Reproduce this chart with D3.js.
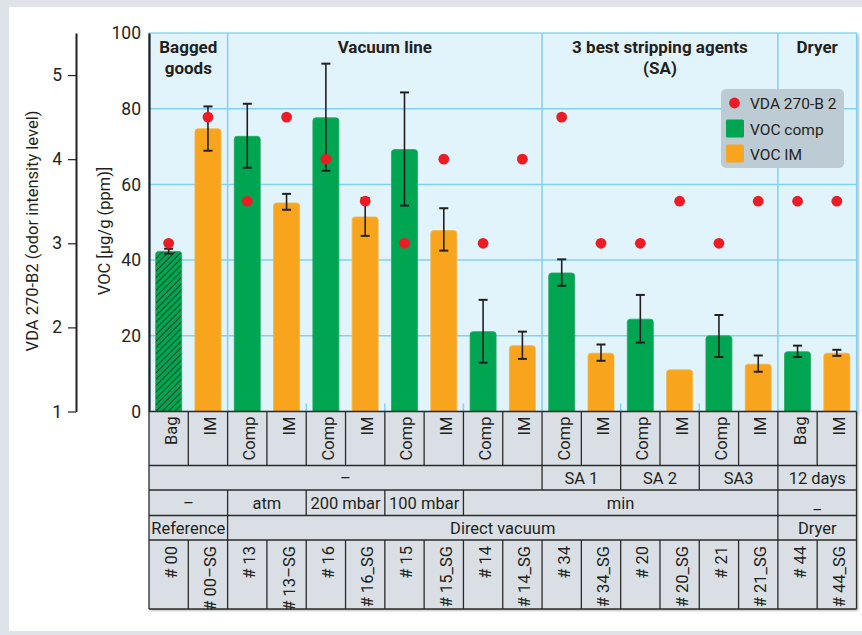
<!DOCTYPE html>
<html>
<head>
<meta charset="utf-8">
<script src="https://cdn.jsdelivr.net/npm/d3@7"></script>
<style>
  body { margin: 0; background: #fff; }
  svg text { font-family: "Roboto", "Liberation Sans", sans-serif; fill: #231f20; }
</style>
</head>
<body>
<svg id="canvas"></svg>
<script>
// ---- data ----
let vocLabels = ['Bag','IM','Comp','IM','Comp','IM','Comp','IM','Comp','IM','Comp','IM','Comp','IM','Comp','IM','Bag','IM']
let sampleIds = ['# 00','# 00–SG','# 13','# 13–SG','# 16','# 16_SG','# 15','# 15_SG','# 14','# 14_SG','# 34','# 34_SG','# 20','# 20_SG','# 21','# 21_SG','# 44','# 44_SG']
let vocSeries = ['bag','im','comp','im','comp','im','comp','im','comp','im','comp','im','comp','im','comp','im','comp','im']
let vocValue  = [42.3, 74.7, 72.7, 55.1, 77.6, 51.4, 69.2, 47.8, 21.1, 17.4, 36.6, 15.4, 24.4, 11.0, 20.0, 12.5, 15.8, 15.4]
let errLow    = [41.7, 68.9, 64.4, 53.3, 63.6, 46.4, 54.4, 42.5, 12.9, 13.9, 33.2, 13.4, 18.2, null, 14.4, 10.5, 14.4, 14.7]
let errHigh   = [43.0, 80.6, 81.3, 57.5, 91.9, 56.4, 84.3, 53.7, 29.5, 21.1, 40.2, 17.7, 30.8, null, 25.5, 14.8, 17.4, 16.3]
let vdaScore  = [3.0, 4.5, 3.5, 4.5, 4.0, 3.5, 3.0, 4.0, 3.0, 4.0, 4.5, 3.0, 3.0, 3.5, 3.0, 3.5, 3.5, 3.5]

let headerText  = [['Bagged','goods'], ['Vacuum line'], ['3 best stripping agents','(SA)'], ['Dryer']]
let headerSpans = [2, 8, 6, 2]
let row2Text  = ['–','SA 1','SA 2','SA3','12 days']
let row2Spans = [10, 2, 2, 2, 2]
let row3Text  = ['–','atm','200 mbar','100 mbar','min','_']
let row3Spans = [2, 2, 2, 2, 8, 2]
let row4Text  = ['Reference','Direct vacuum','Dryer']
let row4Spans = [2, 14, 2]
let minorTicks = [4, 6, 8, 12, 14]

let vocTicks = [0, 20, 40, 60, 80, 100]
let vdaTicks = [1, 2, 3, 4, 5]
let legendItems = ['VDA 270-B 2', 'VOC comp', 'VOC IM']

// ---- layout ----
let width = 862
let height = 635
let plotLeft = 149, plotRight = 856.5, plotTop = 33, plotBottom = 411.5
let rowY = [411.5, 465.5, 490, 515.5, 540, 609]

let colors = { comp: '#00a551', im: '#f8a51d', bag: '#00a551', dot: '#ed1c24' }

let canvas = d3.select('#canvas').attr('width', width).attr('height', height)
let defs = canvas.append('defs')

let shadow = defs.append('filter').attr('id', 'shadow').attr('x', '-5%').attr('y', '-5%').attr('width', '110%').attr('height', '110%')
shadow.append('feDropShadow').attr('dx', 1.5).attr('dy', 1.5).attr('stdDeviation', 1.2).attr('flood-color', '#000').attr('flood-opacity', 0.35)

let hatch = defs.append('pattern').attr('id', 'hatch').attr('patternUnits', 'userSpaceOnUse')
    .attr('width', 4.5).attr('height', 4.5).attr('patternTransform', 'rotate(45)')
hatch.append('rect').attr('width', 4.5).attr('height', 4.5).attr('fill', colors.bag)
hatch.append('line').attr('x1', 0).attr('y1', 0).attr('x2', 0).attr('y2', 4.5)
    .attr('stroke', '#163d22').attr('stroke-width', 1.8)

// outer frame
canvas.append('rect').attr('width', width).attr('height', height).attr('fill', '#dde3e8')
canvas.append('rect').attr('x', 9).attr('y', 7).attr('width', width - 9).attr('height', 624).attr('fill', '#fff')

let xScale = d3.scaleBand().domain(d3.range(vocValue.length)).range([plotLeft, plotRight])
let yScale = d3.scaleLinear().domain([0, 100]).range([plotBottom, plotTop])
let yVda = d3.scaleLinear().domain([1, 5.5]).range([plotBottom, plotTop])
let bw = xScale.bandwidth()
let barW = 26

let spanX = (start, n) => [xScale(start), xScale(start + n - 1) + bw]
let spanList = (spans) => {
    let out = [], s = 0
    spans.forEach(n => { out.push(spanX(s, n)); s += n })
    return out
}

// plot background
canvas.append('rect').attr('x', plotLeft).attr('y', plotTop).attr('width', plotRight - plotLeft).attr('height', plotBottom - plotTop)
    .attr('fill', '#e1f3fb').attr('stroke', '#7fcfef').attr('stroke-width', 1.2).attr('filter', 'url(#shadow)')

// horizontal grid
canvas.append('g').selectAll('line').data(vocTicks.slice(1, 5)).enter().append('line')
    .attr('x1', plotLeft).attr('x2', plotRight)
    .attr('y1', d => yScale(d)).attr('y2', d => yScale(d))
    .attr('stroke', '#82d1f0').attr('stroke-width', 1.5)

// vertical group lines
let groupEdges = spanList(headerSpans).slice(1).map(d => d[0])
canvas.append('g').selectAll('line').data(groupEdges).enter().append('line')
    .attr('x1', d => d).attr('x2', d => d).attr('y1', plotTop).attr('y2', plotBottom)
    .attr('stroke', '#82d1f0').attr('stroke-width', 1.5)
canvas.append('g').selectAll('line').data(minorTicks).enter().append('line')
    .attr('x1', d => xScale(d)).attr('x2', d => xScale(d)).attr('y1', plotBottom - 8).attr('y2', plotBottom)
    .attr('stroke', '#82d1f0').attr('stroke-width', 1.5)

// header texts
let hdr = spanList(headerSpans)
headerText.forEach((lines, i) => {
    let cx = (hdr[i][0] + hdr[i][1]) / 2
    let t = canvas.append('text').attr('x', cx).attr('y', 53)
        .attr('text-anchor', 'middle').attr('font-size', 17).attr('font-weight', 'bold')
    lines.forEach((l, j) => t.append('tspan').attr('x', cx).attr('dy', j ? 21 : 0).text(l))
})

// bars
canvas.append('g').selectAll('path').data(vocValue).enter().append('path')
    .attr('d', (d, i) => {
        let x0 = xScale(i) + (bw - barW) / 2, y0 = yScale(d), r = 3
        return `M${x0},${plotBottom}V${y0 + r}Q${x0},${y0} ${x0 + r},${y0}H${x0 + barW - r}Q${x0 + barW},${y0} ${x0 + barW},${y0 + r}V${plotBottom}Z`
    })
    .attr('fill', (d, i) => vocSeries[i] == 'bag' ? 'url(#hatch)' : colors[vocSeries[i]])
    .attr('stroke', (d, i) => vocSeries[i] == 'im' ? '#f3b54a' : '#26a862').attr('stroke-width', 0.8)

// error bars
let errIdx = d3.range(vocValue.length).filter(i => errLow[i] != null)
let eg = canvas.append('g').attr('stroke', '#231f20').attr('stroke-width', 1.6)
errIdx.forEach(i => {
    let cx = xScale(i) + bw / 2
    eg.append('line').attr('x1', cx).attr('x2', cx).attr('y1', yScale(errLow[i])).attr('y2', yScale(errHigh[i]))
    eg.append('line').attr('x1', cx - 4.5).attr('x2', cx + 4.5).attr('y1', yScale(errLow[i])).attr('y2', yScale(errLow[i])).attr('stroke-width', 2)
    eg.append('line').attr('x1', cx - 4.5).attr('x2', cx + 4.5).attr('y1', yScale(errHigh[i])).attr('y2', yScale(errHigh[i])).attr('stroke-width', 2)
})

// VDA dots
canvas.append('g').selectAll('circle').data(vdaScore).enter().append('circle')
    .attr('cx', (d, i) => xScale(i) + bw / 2).attr('cy', d => yVda(d)).attr('r', 5.4)
    .attr('fill', colors.dot)

// VOC axis
let vocAxis = d3.axisLeft(yScale).tickValues(vocTicks).tickSize(0).tickPadding(8)
let ga = canvas.append('g').attr('transform', `translate(${plotLeft},0)`).call(vocAxis)
ga.select('.domain').attr('stroke', '#231f20').attr('stroke-width', 2.2)
ga.selectAll('text').attr('font-size', 17.5).attr('font-family', 'Roboto, sans-serif').attr('fill', '#231f20')
canvas.append('text').attr('transform', 'translate(110,231) rotate(-90)').attr('text-anchor', 'middle')
    .attr('font-size', 16.5).text('VOC [µg/g (ppm)]')

// VDA axis
let vdaAxis = d3.axisLeft(yVda).tickValues(vdaTicks).tickFormat(d3.format('d'))
    .tickSize(8).tickSizeOuter(0).tickPadding(6)
let gv = canvas.append('g').attr('transform', 'translate(76,0)').call(vdaAxis)
gv.select('.domain').attr('stroke', '#231f20').attr('stroke-width', 2)
gv.selectAll('.tick line').attr('stroke', '#231f20').attr('stroke-width', 1.2)
gv.selectAll('text').attr('font-size', 17.5).attr('font-family', 'Roboto, sans-serif').attr('fill', '#231f20')
canvas.append('text').attr('transform', 'translate(38,231) rotate(-90)').attr('text-anchor', 'middle')
    .attr('font-size', 16.5).text('VDA 270-B2 (odor intensity level)')

// legend
let lg = canvas.append('g')
lg.append('rect').attr('x', 721).attr('y', 89).attr('width', 123).attr('height', 79).attr('rx', 5).attr('fill', '#bdccd4')
lg.append('circle').attr('cx', 734.5).attr('cy', 103).attr('r', 5.4).attr('fill', colors.dot)
lg.append('rect').attr('x', 726).attr('y', 119.5).attr('width', 18).attr('height', 18).attr('rx', 1.5).attr('fill', colors.comp)
lg.append('rect').attr('x', 726).attr('y', 144.5).attr('width', 18).attr('height', 18).attr('rx', 1.5).attr('fill', colors.im)
legendItems.forEach((t, i) => {
    lg.append('text').attr('x', 750).attr('y', 109 + i * 25.5).attr('font-size', 15.5).text(t)
})

// table below
let tbl = canvas.append('g')
tbl.append('rect').attr('x', plotLeft).attr('y', rowY[0]).attr('width', plotRight - plotLeft).attr('height', rowY[5] - rowY[0])
    .attr('fill', '#d9dfe4').attr('filter', 'url(#shadow)')
let tline = (x1, y1, x2, y2) => tbl.append('line').attr('x1', x1).attr('y1', y1).attr('x2', x2).attr('y2', y2)
    .attr('stroke', '#2b2b2b').attr('stroke-width', 1.3)

// row lines
rowY.forEach(y => tline(plotLeft, y, plotRight, y))
tline(plotLeft, rowY[0], plotLeft, rowY[5])
tline(plotRight, rowY[0], plotRight, rowY[5])

// per-column rows
d3.range(vocValue.length).forEach(i => {
    if (i > 0) {
        tline(xScale(i), rowY[0], xScale(i), rowY[1])
        tline(xScale(i), rowY[4], xScale(i), rowY[5])
    }
    let cx = xScale(i) + bw / 2
    tbl.append('text').attr('transform', `translate(${cx + 8},${rowY[0] + 5}) rotate(-90)`)
        .attr('text-anchor', 'end').attr('font-size', 16.5).text(vocLabels[i])
    tbl.append('text').attr('transform', `translate(${cx + 8},${rowY[4] + 6}) rotate(-90)`)
        .attr('text-anchor', 'end').attr('font-size', 16.5).text(sampleIds[i])
})

// spanning rows
let spanRow = (texts, spans, y0, y1) => {
    spanList(spans).forEach((s, i) => {
        if (i > 0) tline(s[0], y0, s[0], y1)
        tbl.append('text').attr('x', (s[0] + s[1]) / 2).attr('y', (y0 + y1) / 2 + 6)
            .attr('text-anchor', 'middle').attr('font-size', 16.5).text(texts[i])
    })
}
spanRow(row2Text, row2Spans, rowY[1], rowY[2])
spanRow(row3Text, row3Spans, rowY[2], rowY[3])
spanRow(row4Text, row4Spans, rowY[3], rowY[4])
</script>
</body>
</html>
